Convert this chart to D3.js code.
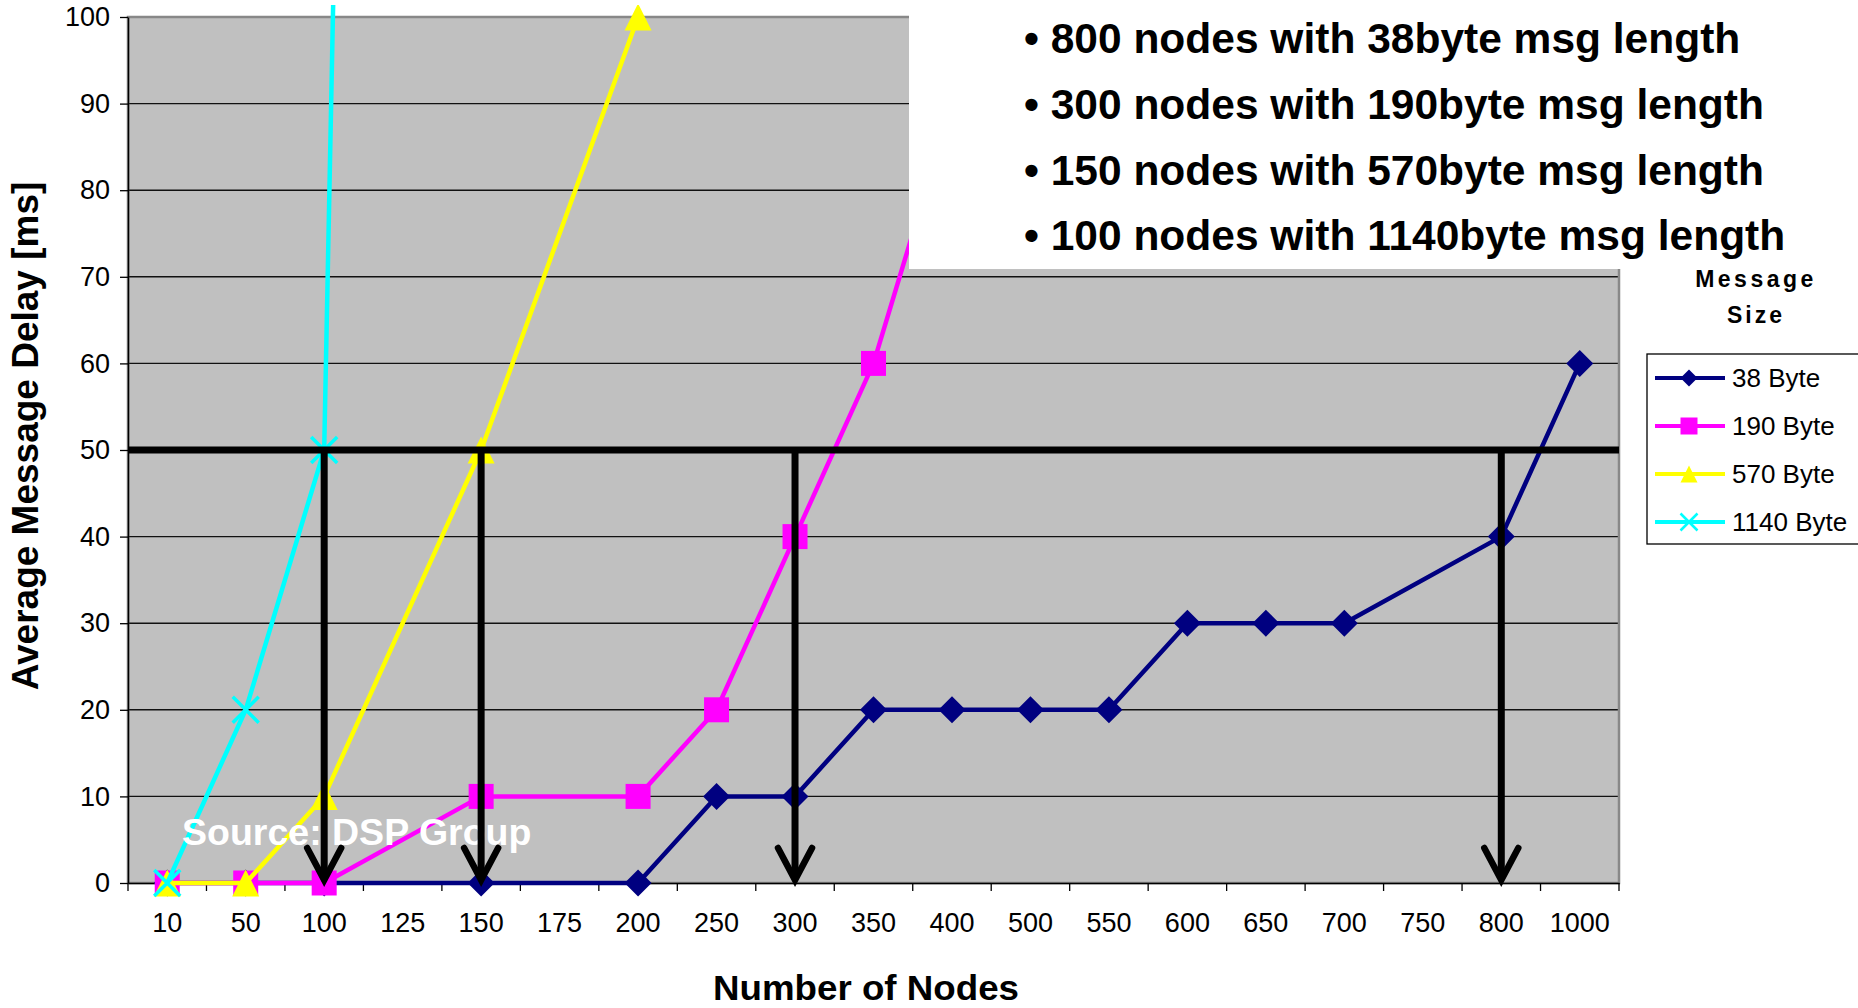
<!DOCTYPE html>
<html>
<head>
<meta charset="utf-8">
<script src="https://cdn.jsdelivr.net/npm/d3@7"></script>
<style>
  body { margin: 0; background: #fff; }
  text { font-family: "Liberation Sans", Arial, sans-serif; }
</style>
</head>
<body>
<svg width="1858" height="1008"></svg>
<script>
// data (null = no point for that series)
var categories = ["10", "50", "100", "125", "150", "175", "200", "250", "300", "350",
                  "400", "500", "550", "600", "650", "700", "750", "800", "1000"];
var bytes38   = [0, 0, 0, null, 0, null, 0, 10, 10, 20, 20, 20, 20, 30, 30, 30, null, 40, 60];
var bytes190  = [0, 0, 0, null, 10, null, 10, 20, 40, 60, 90, null, null, null, null, null, null, null, null];
var bytes570  = [0, 0, 10, null, 50, null, 100, null, null, null, null, null, null, null, null, null, null, null, null];
var bytes1140 = [0, 20, 50, 500, null, null, null, null, null, null, null, null, null, null, null, null, null, null, null];
var seriesNames = ["38 Byte", "190 Byte", "570 Byte", "1140 Byte"];
var yTicks = [0, 10, 20, 30, 40, 50, 60, 70, 80, 90, 100];
var threshold = 50;
var arrowCats = ["100", "150", "300", "800"];
var notes = ["800 nodes with 38byte msg length",
             "300 nodes with 190byte msg length",
             "150 nodes with 570byte msg length",
             "100 nodes with 1140byte msg length"];

var svg = d3.select("svg");

var x = d3.scaleBand().domain(categories).range([128, 1619]).padding(0);
var y = d3.scaleLinear().domain([0, 100]).range([883, 17]);

// custom excel-like marker shapes
var diamond = { draw: function(c, s) { var r = Math.sqrt(s) / 2;
  c.moveTo(0, -r); c.lineTo(r, 0); c.lineTo(0, r); c.lineTo(-r, 0); c.closePath(); } };
var square = { draw: function(c, s) { var r = Math.sqrt(s) / 2;
  c.rect(-r, -r, 2 * r, 2 * r); } };
var triangle = { draw: function(c, s) { var r = Math.sqrt(s) / 2;
  c.moveTo(0, -r); c.lineTo(r, r); c.lineTo(-r, r); c.closePath(); } };
var cross = { draw: function(c, s) { var r = Math.sqrt(s) / 2;
  c.moveTo(-r, -r); c.lineTo(r, r); c.moveTo(r, -r); c.lineTo(-r, r); } };

var series = [
  { name: seriesNames[0], values: bytes38,   color: "#000080", shape: diamond,  size: 27, legSize: 17 },
  { name: seriesNames[1], values: bytes190,  color: "#FF00FF", shape: square,   size: 25, legSize: 17 },
  { name: seriesNames[2], values: bytes570,  color: "#FFFF00", shape: triangle, size: 27, legSize: 17 },
  { name: seriesNames[3], values: bytes1140, color: "#00FFFF", shape: cross,    size: 26, legSize: 17 }
];

svg.append("defs").append("clipPath").attr("id", "chartClip")
  .append("rect").attr("x", 0).attr("y", 5).attr("width", 1858).attr("height", 1003);

// plot area
svg.append("rect")
  .attr("x", 128).attr("y", 17)
  .attr("width", 1619 - 128).attr("height", 883 - 17)
  .attr("fill", "#C0C0C0");

svg.append("g")
  .selectAll("line")
  .data(yTicks.slice(1))
  .enter().append("line")
  .attr("x1", 128).attr("x2", 1619)
  .attr("y1", function(d) { return y(d); })
  .attr("y2", function(d) { return y(d); })
  .attr("stroke", "#111")
  .attr("stroke-width", 1.4);

svg.append("rect")
  .attr("x", 128).attr("y", 17)
  .attr("width", 1619 - 128).attr("height", 883 - 17)
  .attr("fill", "none")
  .attr("stroke", "#888")
  .attr("stroke-width", 2.5);

// y axis
var yAxis = svg.append("g")
  .attr("transform", "translate(128,0)")
  .call(d3.axisLeft(y).tickValues(yTicks).tickSize(8).tickPadding(10).tickSizeOuter(0));
yAxis.select(".domain").attr("stroke", "#000").attr("stroke-width", 1.5);
yAxis.selectAll(".tick line").attr("stroke", "#000").attr("stroke-width", 1.3);
yAxis.selectAll("text").attr("font-size", 27).attr("fill", "#000")
  .style("font-family", "'Liberation Sans', Arial, sans-serif");

// x axis: labels centred on categories, ticks on the boundaries
var xAxis = svg.append("g")
  .attr("transform", "translate(0,883)")
  .call(d3.axisBottom(x).tickSize(0).tickPadding(30).tickSizeOuter(0));
xAxis.select(".domain").attr("stroke", "#000").attr("stroke-width", 1.5);
xAxis.selectAll("text").attr("font-size", 27).attr("fill", "#000")
  .style("font-family", "'Liberation Sans', Arial, sans-serif");

var bounds = categories.map(function(c) { return x(c); }).concat([x.range()[1]]);
svg.append("g")
  .selectAll("line")
  .data(bounds)
  .enter().append("line")
  .attr("x1", function(d) { return d; })
  .attr("x2", function(d) { return d; })
  .attr("y1", 883).attr("y2", 891)
  .attr("stroke", "#000")
  .attr("stroke-width", 1.3);

// series
var line = d3.line()
  .x(function(d) { return x(d.cat) + x.bandwidth() / 2; })
  .y(function(d) { return y(d.v); });

series.forEach(function(s) {
  var pts = s.values.map(function(v, i) { return { cat: categories[i], v: v }; })
    .filter(function(d) { return d.v !== null; });
  var g = svg.append("g").attr("clip-path", "url(#chartClip)");
  g.append("path")
    .datum(pts)
    .attr("d", line)
    .attr("fill", "none")
    .attr("stroke", s.color)
    .attr("stroke-width", 4.5)
    .attr("stroke-linejoin", "round");
  var sym = d3.symbol().type(s.shape).size(s.size * s.size);
  g.selectAll(".mk")
    .data(pts.filter(function(d) { return d.v <= 100; }))
    .enter().append("path")
    .attr("transform", function(d) {
      return "translate(" + (x(d.cat) + x.bandwidth() / 2) + "," + y(d.v) + ")";
    })
    .attr("d", sym)
    .attr("fill", s.shape === cross ? "none" : s.color)
    .attr("stroke", s.shape === cross ? s.color : "none")
    .attr("stroke-width", 3.5);
});

svg.append("text")
  .attr("x", 182).attr("y", 845)
  .attr("font-size", 37.5).attr("font-weight", "bold")
  .attr("fill", "#fff")
  .text("Source: DSP Group");

// threshold line and arrows
svg.append("line")
  .attr("x1", 128).attr("x2", 1619)
  .attr("y1", y(threshold)).attr("y2", y(threshold))
  .attr("stroke", "#000").attr("stroke-width", 7);

var arrows = svg.append("g")
  .selectAll("g")
  .data(arrowCats)
  .enter().append("g")
  .attr("transform", function(d) { return "translate(" + (x(d) + x.bandwidth() / 2) + ",0)"; });
arrows.append("line")
  .attr("x1", 0).attr("x2", 0)
  .attr("y1", y(threshold)).attr("y2", y(0) - 6)
  .attr("stroke", "#000").attr("stroke-width", 7);
arrows.append("path")
  .attr("d", "M-17," + (y(0) - 35) + "L0," + (y(0) - 3) + "L17," + (y(0) - 35))
  .attr("fill", "none")
  .attr("stroke", "#000").attr("stroke-width", 6.5)
  .attr("stroke-linecap", "round")
  .attr("stroke-linejoin", "miter");

// white text box with the notes
svg.append("rect")
  .attr("x", 909).attr("y", 0)
  .attr("width", 740).attr("height", 269)
  .attr("fill", "#fff");

svg.append("g")
  .selectAll("text")
  .data(notes)
  .enter().append("text")
  .attr("x", 1024)
  .attr("y", function(d, i) { return 53 + i * 65.8; })
  .attr("font-size", 42.5).attr("font-weight", "bold")
  .attr("fill", "#000")
  .text(function(d) { return "\u2022 " + d; });

// axis titles
svg.append("text")
  .attr("transform", "translate(38,436) rotate(-90)")
  .attr("text-anchor", "middle")
  .attr("font-size", 37).attr("font-weight", "bold")
  .text("Average Message Delay [ms]");

svg.append("text")
  .attr("x", 866).attr("y", 1000)
  .attr("text-anchor", "middle")
  .attr("font-size", 35).attr("font-weight", "bold")
  .attr("textLength", 306).attr("lengthAdjust", "spacingAndGlyphs")
  .text("Number of Nodes");

// legend
svg.append("text")
  .attr("x", 1756).attr("y", 287)
  .attr("text-anchor", "middle")
  .attr("font-size", 23).attr("font-weight", "bold")
  .attr("letter-spacing", 3.5)
  .text("Message");
svg.append("text")
  .attr("x", 1756).attr("y", 323)
  .attr("text-anchor", "middle")
  .attr("font-size", 23).attr("font-weight", "bold")
  .attr("letter-spacing", 3)
  .text("Size");

svg.append("rect")
  .attr("x", 1647).attr("y", 354)
  .attr("width", 240).attr("height", 190)
  .attr("fill", "#fff")
  .attr("stroke", "#000").attr("stroke-width", 1.3);

var leg = svg.append("g")
  .selectAll("g")
  .data(series)
  .enter().append("g")
  .attr("transform", function(d, i) { return "translate(0," + (378 + i * 48) + ")"; });
leg.append("line")
  .attr("x1", 1655).attr("x2", 1725)
  .attr("stroke", function(d) { return d.color; })
  .attr("stroke-width", 4);
leg.append("path")
  .attr("transform", "translate(1689,0)")
  .attr("d", function(d) { return d3.symbol().type(d.shape).size(d.legSize * d.legSize)(); })
  .attr("fill", function(d) { return d.shape === cross ? "none" : d.color; })
  .attr("stroke", function(d) { return d.shape === cross ? d.color : "none"; })
  .attr("stroke-width", 2.5);
leg.append("text")
  .attr("x", 1732).attr("dy", "0.35em")
  .attr("font-size", 26)
  .text(function(d) { return d.name; });
</script>
</body>
</html>
